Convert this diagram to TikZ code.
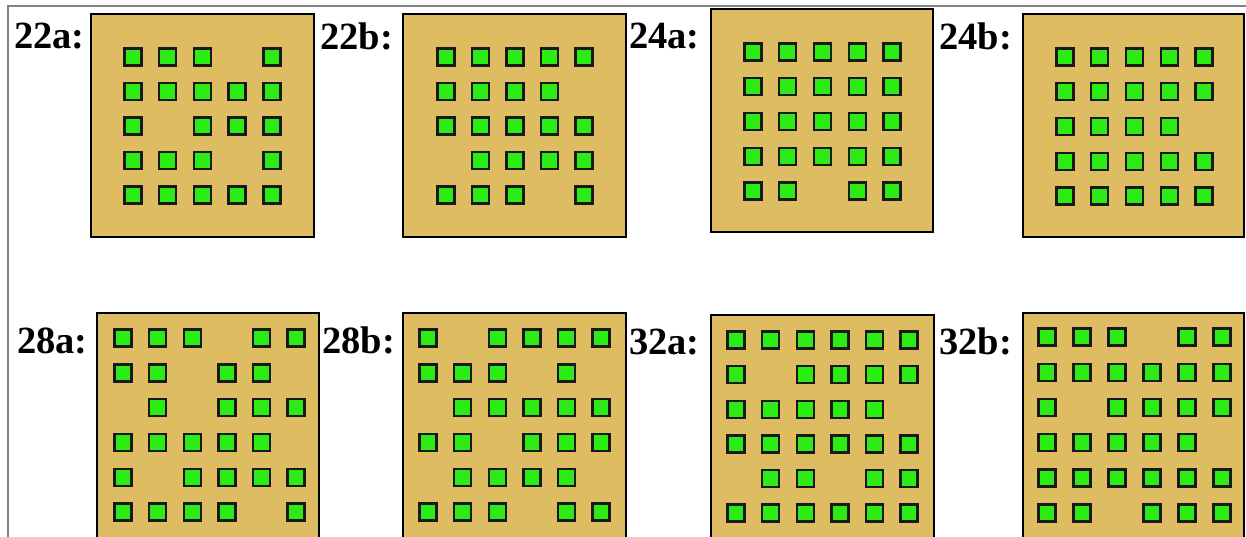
\documentclass[tikz,border=0pt]{standalone}
\usepackage{fontspec}
\setmainfont{Liberation Serif}
\definecolor{boardcol}{RGB}{222,189,98}
\definecolor{padgreen}{RGB}{45,235,20}
\definecolor{framegray}{RGB}{130,130,130}
\newcommand\padgrid[6]{%
  \foreach \rw [count=\r from 0] in {#6} {%
    \foreach \v [count=\c from 0] in \rw {%
      \ifnum\v=1 \node[pad] (#1-\r-\c) at ({#2+\c*#4},{#3+\r*#5}) {};\fi
    }}}
\begin{document}
\begin{tikzpicture}[x=1pt,y=-1pt,
  boardbox/.style={draw=black,line width=2pt,fill=boardcol,inner sep=0pt,outer sep=0pt},
  pad/.style={draw=black!90,line width=2.4pt,fill=padgreen,minimum size=17pt,inner sep=0pt},
  lbl/.style={font=\fontsize{38.5}{42}\selectfont\bfseries,anchor=base west,inner sep=0pt}]
\useasboundingbox (0,0) rectangle (1246,536);
\clip (0,0) rectangle (1246,536);
\fill[white] (0,0) rectangle (1246,536);
\draw[framegray,line width=2pt] (8,540) -- (8,6) -- (1250,6);

% boards
\node[boardbox,minimum width=223pt,minimum height=223pt] (b22a) at (202.5,125.5) {};
\node[boardbox,minimum width=223pt,minimum height=223pt] (b22b) at (514.5,125.5) {};
\node[boardbox,minimum width=222pt,minimum height=223pt] (b24a) at (822,120.5) {};
\node[boardbox,minimum width=221pt,minimum height=223pt] (b24b) at (1133.5,125.5) {};
\node[boardbox,minimum width=222pt,minimum height=227pt] (b28a) at (208,426.5) {};
\node[boardbox,minimum width=223pt,minimum height=227pt] (b28b) at (514.5,426.5) {};
\node[boardbox,minimum width=223pt,minimum height=225pt] (b32a) at (822.5,427.5) {};
\node[boardbox,minimum width=221pt,minimum height=227pt] (b32b) at (1133.5,426.5) {};

% labels
\node[lbl] (l22a) at (14,48) {22a:};
\node[lbl] (l22b) at (320,49) {22b:};
\node[lbl] (l24a) at (629,48) {24a:};
\node[lbl] (l24b) at (939,49) {24b:};
\node[lbl] (l28a) at (17,353) {28a:};
\node[lbl] (l28b) at (322,353) {28b:};
\node[lbl] (l32a) at (629,354) {32a:};
\node[lbl] (l32b) at (939,354) {32b:};

% pads
\padgrid{p22a}{133}{57}{34.7}{34.5}{{1,1,1,0,1},{1,1,1,1,1},{1,0,1,1,1},{1,1,1,0,1},{1,1,1,1,1}}
\padgrid{p22b}{446}{57}{34.5}{34.5}{{1,1,1,1,1},{1,1,1,1,0},{1,1,1,1,1},{0,1,1,1,1},{1,1,1,0,1}}
\padgrid{p24a}{753}{52}{34.75}{34.75}{{1,1,1,1,1},{1,1,1,1,1},{1,1,1,1,1},{1,1,1,1,1},{1,1,0,1,1}}
\padgrid{p24b}{1065}{57}{34.75}{34.75}{{1,1,1,1,1},{1,1,1,1,1},{1,1,1,1,0},{1,1,1,1,1},{1,1,1,1,1}}
\padgrid{p28a}{123}{338}{34.6}{34.8}{{1,1,1,0,1,1},{1,1,0,1,1,0},{0,1,0,1,1,1},{1,1,1,1,1,0},{1,0,1,1,1,1},{1,1,1,1,0,1}}
\padgrid{p28b}{428}{338}{34.6}{34.8}{{1,0,1,1,1,1},{1,1,1,0,1,0},{0,1,1,1,1,1},{1,1,0,1,1,1},{0,1,1,1,1,0},{1,1,1,0,1,1}}
\padgrid{p32a}{736}{340}{34.6}{34.6}{{1,1,1,1,1,1},{1,0,1,1,1,1},{1,1,1,1,1,0},{1,1,1,1,1,1},{0,1,1,0,1,1},{1,1,1,1,1,1}}
\padgrid{p32b}{1047}{337}{35}{35.2}{{1,1,1,0,1,1},{1,1,1,1,1,1},{1,0,1,1,1,1},{1,1,1,1,1,0},{1,1,1,1,1,1},{1,1,0,1,1,1}}
\end{tikzpicture}
\end{document}
